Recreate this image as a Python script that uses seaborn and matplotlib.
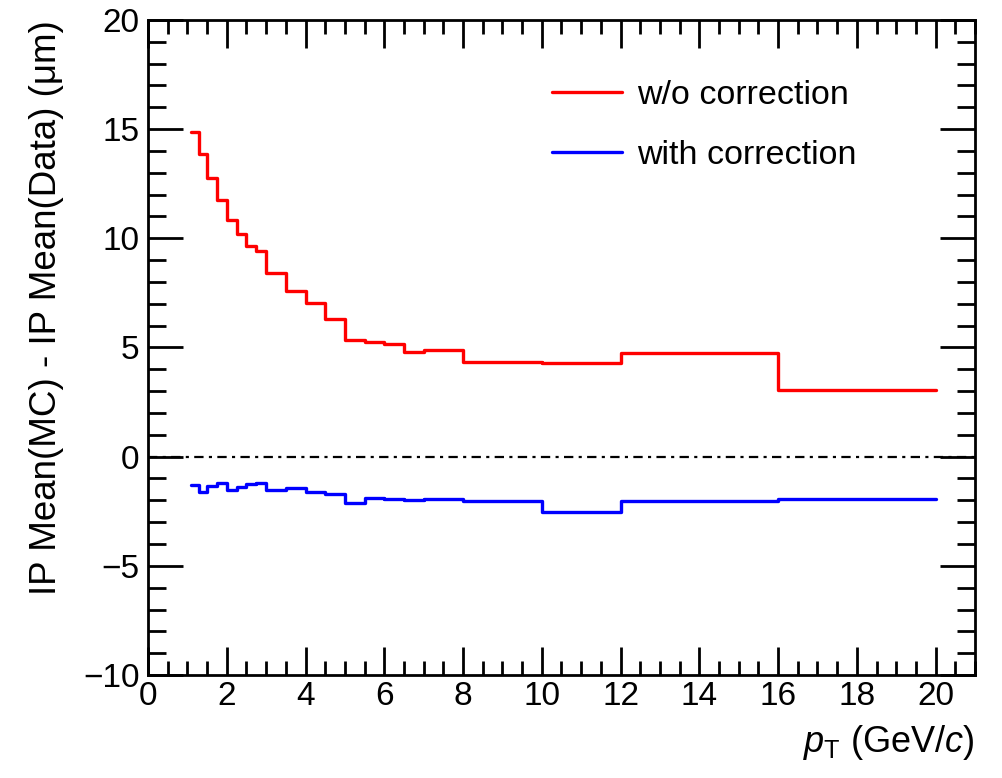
import numpy as np
import pandas as pd
import matplotlib
matplotlib.use("Agg")
import matplotlib.pyplot as plt
import seaborn as sns
from matplotlib.ticker import MultipleLocator

# ---- data ----
bin_edges = [1.1, 1.3, 1.5, 1.75, 2.0, 2.25, 2.5, 2.75, 3.0, 3.5, 4.0, 4.5,
             5.0, 5.5, 6.0, 6.5, 7.0, 8.0, 10.0, 12.0, 16.0, 20.0]
wo_correction = [14.88, 13.88, 12.77, 11.74, 10.83, 10.18, 9.63, 9.40, 8.43,
                 7.61, 7.03, 6.31, 5.35, 5.27, 5.14, 4.80, 4.89, 4.33, 4.27,
                 4.76, 3.06]
with_correction = [-1.28, -1.61, -1.36, -1.21, -1.51, -1.41, -1.25, -1.21,
                   -1.53, -1.45, -1.61, -1.71, -2.11, -1.90, -1.96, -2.00,
                   -1.94, -2.02, -2.52, -2.03, -1.94]
series_names = ["w/o correction", "with correction"]
x_label = r"$p_{\mathrm{T}}$ (GeV/$c$)"
y_label = "IP Mean(MC) - IP Mean(Data) (μm)"

sns.set_theme(style="ticks")
plt.rcParams["font.family"] = ["Liberation Sans", "DejaVu Sans"]
plt.rcParams["mathtext.fontset"] = "custom"
plt.rcParams["mathtext.rm"] = "Liberation Sans"
plt.rcParams["mathtext.it"] = "Liberation Sans:italic"
plt.rcParams["text.color"] = "black"
plt.rcParams["axes.labelcolor"] = "black"
plt.rcParams["xtick.color"] = "black"
plt.rcParams["ytick.color"] = "black"
plt.rcParams["xtick.labelcolor"] = "black"
plt.rcParams["ytick.labelcolor"] = "black"

fig = plt.figure(figsize=(10.03, 7.78), dpi=100)
ax = fig.add_axes([148 / 1003, 1 - 675 / 778, (975 - 148) / 1003, (675 - 20) / 778])

def step_frame(values, name):
    return pd.DataFrame({"x": bin_edges,
                         "y": list(values) + [values[-1]],
                         "series": name})

df = pd.concat([step_frame(wo_correction, series_names[0]),
                step_frame(with_correction, series_names[1])], ignore_index=True)

sns.lineplot(data=df, x="x", y="y", hue="series",
             palette={series_names[0]: "#ff0000", series_names[1]: "#0000ff"},
             estimator=None, sort=False, drawstyle="steps-post",
             linewidth=2.4, ax=ax, legend=True)

ax.axhline(0, color="black", linestyle=(0, (4.2, 2.4, 1.4, 2.4)), linewidth=1.6, zorder=1)

ax.set_xlim(0, 21)
ax.set_ylim(-10, 20)
ax.xaxis.set_major_locator(MultipleLocator(2))
ax.xaxis.set_minor_locator(MultipleLocator(0.5))
ax.yaxis.set_major_locator(MultipleLocator(5))
ax.yaxis.set_minor_locator(MultipleLocator(1))
ax.tick_params(which="both", direction="in", top=True, right=True,
               width=2, labelsize=24, color="black", labelcolor="black")
ax.tick_params(axis="x", which="major", length=20, pad=4)
ax.tick_params(axis="x", which="minor", length=10)
ax.tick_params(axis="y", which="major", length=25, pad=6)
ax.tick_params(axis="y", which="minor", length=13)
for sp in ax.spines.values():
    sp.set_linewidth(2)
    sp.set_color("black")

ax.set_xlabel(x_label, fontsize=26, loc="right", labelpad=8, color="black")
ax.set_ylabel(y_label, fontsize=26.5, loc="top", labelpad=14, color="black")

leg = ax.legend(loc="upper left", bbox_to_anchor=(0.452, 0.955), frameon=False,
                fontsize=24.5, handlelength=2.05, handletextpad=0.45,
                labelspacing=0.85)
for line in leg.get_lines():
    line.set_linewidth(2.4)
for t in leg.get_texts():
    t.set_color("black")

fig.savefig("out.png", dpi=100)
